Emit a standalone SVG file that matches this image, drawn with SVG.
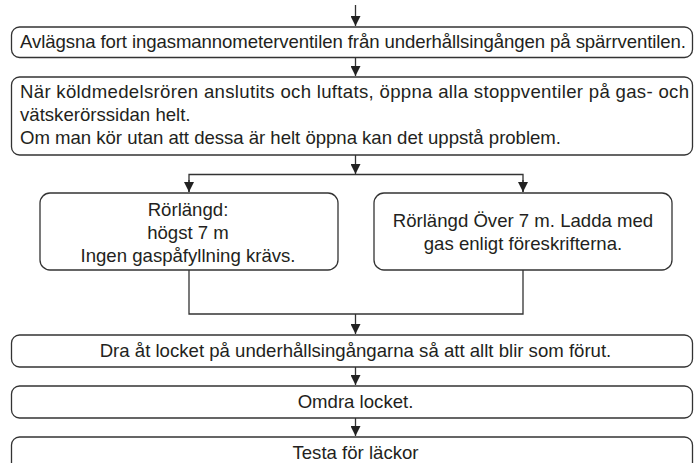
<svg xmlns="http://www.w3.org/2000/svg" width="694" height="463" viewBox="0 0 694 463">
<style>
.box{fill:#fff;stroke:#333;stroke-width:1.3}
.con{fill:none;stroke:#333;stroke-width:1.3}
text{font-family:"Liberation Sans",Arial,sans-serif;font-size:18.6px;fill:#231f20}
.c{text-anchor:middle}
</style>
<defs>
<marker id="ah" markerUnits="userSpaceOnUse" markerWidth="12" markerHeight="10" refX="10" refY="5" orient="auto" viewBox="0 0 12 10">
<path d="M0,0 L10,5 L0,10 Z" fill="#222"/>
</marker>
</defs>
<rect width="694" height="463" fill="#fff"/>
<g id="connectors">
<line class="con" x1="355.5" y1="5" x2="355.5" y2="26" marker-end="url(#ah)"/>
<line class="con" x1="355.5" y1="57.5" x2="355.5" y2="76" marker-end="url(#ah)"/>
<line class="con" x1="355.5" y1="155" x2="355.5" y2="174" marker-end="url(#ah)"/>
<polyline class="con" points="189,192 189,174.5 523,174.5 523,192"/>
<line class="con" x1="189" y1="180" x2="189" y2="192" marker-end="url(#ah)"/>
<line class="con" x1="523" y1="180" x2="523" y2="192" marker-end="url(#ah)"/>
<polyline class="con" points="189,270 189,314 523,314 523,270"/>
<line class="con" x1="355.5" y1="314" x2="355.5" y2="334" marker-end="url(#ah)"/>
<line class="con" x1="355.5" y1="367" x2="355.5" y2="385" marker-end="url(#ah)"/>
<line class="con" x1="355.5" y1="418" x2="355.5" y2="436" marker-end="url(#ah)"/>
</g>
<g id="n1">
<rect class="box" x="11.5" y="27" width="681" height="30.5" rx="8"/>
<text x="20" y="48" textLength="666">Avlägsna fort ingasmannometerventilen från underhållsingången på spärrventilen.</text>
</g>
<g id="n2">
<rect class="box" x="11.5" y="77" width="681" height="78" rx="8"/>
<text x="20" y="98" textLength="669">När köldmedelsrören anslutits och luftats, öppna alla stoppventiler på gas- och</text>
<text x="20" y="121">vätskerörssidan helt.</text>
<text x="20" y="144" textLength="541">Om man kör utan att dessa är helt öppna kan det uppstå problem.</text>
</g>
<g id="n3">
<rect class="box" x="40" y="193" width="298" height="77" rx="10"/>
<text class="c" x="188" y="216">Rörlängd:</text>
<text class="c" x="188" y="239">högst 7 m</text>
<text class="c" x="188" y="262">Ingen gaspåfyllning krävs.</text>
</g>
<g id="n4">
<rect class="box" x="374" y="193" width="298" height="77" rx="10"/>
<text class="c" x="523" y="227">Rörlängd Över 7 m. Ladda med</text>
<text class="c" x="523" y="250">gas enligt föreskrifterna.</text>
</g>
<g id="n5">
<rect class="box" x="11.5" y="335" width="681" height="32" rx="8"/>
<text class="c" x="355.5" y="357">Dra åt locket på underhållsingångarna så att allt blir som förut.</text>
</g>
<g id="n6">
<rect class="box" x="11.5" y="386" width="681" height="32" rx="8"/>
<text class="c" x="355.5" y="408">Omdra locket.</text>
</g>
<g id="n7">
<rect class="box" x="11.5" y="437" width="681" height="34" rx="8"/>
<text class="c" x="355.5" y="459">Testa för läckor</text>
</g>
</svg>
